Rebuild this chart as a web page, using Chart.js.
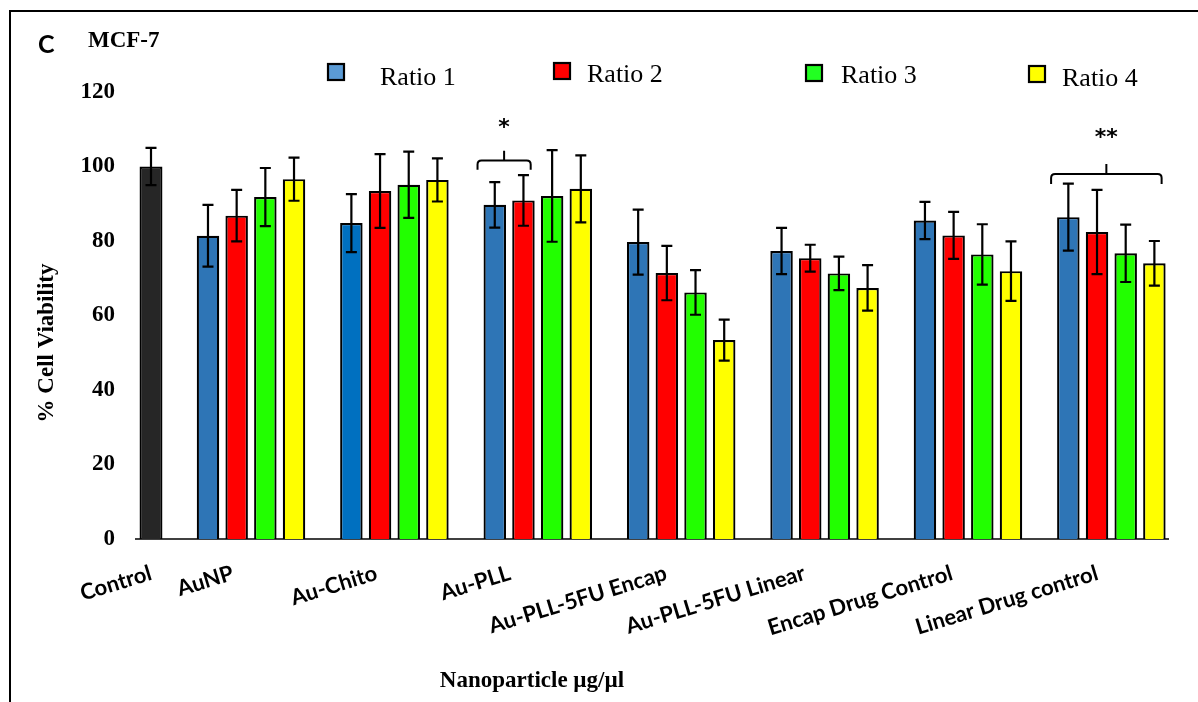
<!DOCTYPE html>
<html>
<head>
<meta charset="utf-8">
<script src="https://cdn.jsdelivr.net/npm/chart.js@4/dist/chart.umd.min.js"></script>
<style>
  html, body { margin: 0; padding: 0; background: #ffffff; }
  #wrap { position: relative; width: 1198px; height: 702px; }
</style>
</head>
<body>
<div id="wrap"><canvas id="chart"></canvas></div>
<script>
// ---------------- DATA ----------------
const categories = ['Control', 'AuNP', 'Au-Chito', 'Au-PLL', 'Au-PLL-5FU Encap',
                    'Au-PLL-5FU Linear', 'Encap Drug Control', 'Linear Drug control'];
const seriesNames = ['Ratio 1', 'Ratio 2', 'Ratio 3', 'Ratio 4'];
const controlValue = [100];
const controlError = [5];
const ratio1    = [81.4, 84.8, 89.7, 79.7, 77.3, 85.5, 86.4];
const ratio1Err = [8.3, 7.8, 6.1, 8.7, 6.2, 5.0, 9.0];
const ratio2    = [86.8, 93.4, 90.9, 71.4, 75.4, 81.5, 82.4];
const ratio2Err = [6.9, 9.9, 6.8, 7.3, 3.6, 6.3, 11.3];
const ratio3    = [91.8, 95.1, 92.1, 66.2, 71.3, 76.4, 76.7];
const ratio3Err = [7.8, 8.9, 12.3, 6.0, 4.5, 8.1, 7.7];
const ratio4    = [96.6, 96.4, 94.0, 53.4, 67.4, 71.9, 74.0];
const ratio4Err = [5.8, 5.8, 9.0, 5.5, 6.1, 8.0, 6.0];
const yTicks = [0, 20, 40, 60, 80, 100, 120];
// significance brackets: category index, first/last series, levels in % units
const sigGroup  = [3, 7];
const sigFrom   = [0, 0];
const sigTo     = [1, 3];
const sigLevel  = [101.6, 98.0];
const sigArm    = [99.1, 95.3];
const sigTip    = [104.2, 100.7];
const sigLabel  = ['*', '**'];
const sigLabelY = [111.7, 109.0];

// ---------------- LAYOUT / STYLE ----------------
const CONTROL_POS = 0.3026;           // control bar sits closer to the first group
const X_MIN = 0.198, X_MAX = 7.395;
const PLOT_W = 1198 - 136 - 30;       // chart area width in px
const UNIT_PX = PLOT_W / (X_MAX - X_MIN);
const catPos = categories.map((c, i) => i === 0 ? CONTROL_POS : i);
const labelNudge = [20, 2, 2, -8, 5, 0, 4, 6];   // px, label placement tweaks
const tickPos = catPos.map((p, i) => p + labelNudge[i] / UNIT_PX);
const minGapU = Math.min(1 - CONTROL_POS, ...tickPos.slice(1).map((p, i) => p - tickPos[i]));
const GROUP_W_U = 0.8;    // four bar slots per group, in x units
const CONTROL_W_U = 0.16; // control bar width, in x units

const seriesValues = [ratio1, ratio2, ratio3, ratio4];
const seriesErrors = [ratio1Err, ratio2Err, ratio3Err, ratio4Err];
const barColors = [
  ['#2E75B6', '#0070C0', '#2E75B6', '#2E75B6', '#2E75B6', '#2E75B6', '#2E75B6'],
  '#FF0000', '#22FF00', '#FFFF00'
];
const legendColors = ['#5B9BD5', '#FF0000', '#22FF22', '#FFFF00'];
const legendBoxX = [327, 553, 805, 1028];
const legendBoxY = [63, 62, 64, 65];
const legendTextX = [380, 587, 841, 1062];
const legendTextY = [85, 82, 83, 86];

const datasets = [{
  label: 'Control',
  data: controlValue.map(v => ({ x: catPos[0], y: v })),
  errors: controlError,
  backgroundColor: '#262626',
  borderColor: '#000000',
  borderWidth: 2.2,
  grouped: false,
  categoryPercentage: 1,
  barPercentage: CONTROL_W_U / minGapU
}];
seriesNames.forEach((name, s) => {
  datasets.push({
    label: name,
    data: seriesValues[s].map((v, i) => ({ x: catPos[i + 1], y: v })),
    errors: seriesErrors[s],
    backgroundColor: barColors[s],
    borderColor: '#000000',
    borderWidth: 2.2,
    categoryPercentage: GROUP_W_U / minGapU,
    barPercentage: 0.784
  });
});

const decorPlugin = {
  id: 'decor',
  afterDatasetsDraw(chart) {
    const ctx = chart.ctx;
    const yS = chart.scales.y;
    ctx.save();
    ctx.strokeStyle = '#000';
    ctx.lineWidth = 2.2;
    chart.data.datasets.forEach((ds, di) => {
      const meta = chart.getDatasetMeta(di);
      meta.data.forEach((bar, j) => {
        const v = ds.data[j].y, e = ds.errors[j];
        const yt = yS.getPixelForValue(v + e), yb = yS.getPixelForValue(v - e);
        const x = bar.x, cw = 5.5;
        ctx.beginPath();
        ctx.moveTo(x, yt); ctx.lineTo(x, yb);
        ctx.moveTo(x - cw, yt); ctx.lineTo(x + cw, yt);
        ctx.moveTo(x - cw, yb); ctx.lineTo(x + cw, yb);
        ctx.stroke();
      });
    });
    ctx.restore();
  },
  afterDraw(chart) {
    const ctx = chart.ctx;
    const yS = chart.scales.y;
    ctx.save();
    // frame
    ctx.strokeStyle = '#000';
    ctx.lineWidth = 2;
    ctx.beginPath();
    ctx.moveTo(10, 702); ctx.lineTo(10, 11); ctx.lineTo(1198, 11);
    ctx.stroke();
    // panel letter & cell line
    ctx.fillStyle = '#000';
    ctx.textAlign = 'left';
    ctx.textBaseline = 'alphabetic';
    ctx.font = 'bold 25px Lato';
    ctx.fillText('C', 38, 53);
    ctx.font = 'bold 23px "Liberation Serif"';
    ctx.fillText('MCF-7', 88, 47);
    // legend
    seriesNames.forEach((name, s) => {
      ctx.fillStyle = legendColors[s];
      ctx.fillRect(legendBoxX[s], legendBoxY[s], 18, 18);
      ctx.strokeStyle = '#000';
      ctx.lineWidth = 2.2;
      ctx.strokeRect(legendBoxX[s] + 1, legendBoxY[s] + 1, 16, 16);
      ctx.fillStyle = '#000';
      ctx.font = '26px "Liberation Serif"';
      ctx.fillText(name, legendTextX[s], legendTextY[s]);
    });
    // axis titles
    ctx.font = 'bold 23px "Liberation Serif"';
    ctx.textAlign = 'center';
    ctx.textBaseline = 'middle';
    ctx.save();
    ctx.translate(47, 343);
    ctx.rotate(-Math.PI / 2);
    ctx.fillText('% Cell Viability', 0, 0);
    ctx.restore();
    ctx.font = 'bold 23px "Liberation Serif"';
    ctx.fillText('Nanoparticle \u00b5g/\u00b5l', 532, 681);
    // significance brackets
    ctx.strokeStyle = '#000';
    ctx.lineWidth = 2;
    sigGroup.forEach((g, k) => {
      const b1 = chart.getDatasetMeta(sigFrom[k] + 1).data[g - 1];
      const b2 = chart.getDatasetMeta(sigTo[k] + 1).data[g - 1];
      const x1 = b1.x - b1.width / 2 - 6;
      const x2 = b2.x + b2.width / 2 - 4;
      const yH = yS.getPixelForValue(sigLevel[k]);
      const yA = yS.getPixelForValue(sigArm[k]);
      const yT = yS.getPixelForValue(sigTip[k]);
      const xc = (x1 + x2) / 2, r = 4;
      ctx.beginPath();
      ctx.moveTo(x1, yA);
      ctx.lineTo(x1, yH + r);
      ctx.quadraticCurveTo(x1, yH, x1 + r, yH);
      ctx.lineTo(x2 - r, yH);
      ctx.quadraticCurveTo(x2, yH, x2, yH + r);
      ctx.lineTo(x2, yA);
      ctx.moveTo(xc, yH);
      ctx.lineTo(xc, yT);
      ctx.stroke();
      ctx.font = 'bold 22px "DejaVu Sans"';
      ctx.textAlign = 'center';
      ctx.textBaseline = 'alphabetic';
      const m = ctx.measureText(sigLabel[k]);
      const yl = yS.getPixelForValue(sigLabelY[k]);
      ctx.fillStyle = '#000';
      ctx.fillText(sigLabel[k], xc, yl + (m.actualBoundingBoxAscent - m.actualBoundingBoxDescent) / 2);
    });
    ctx.restore();
  }
};

new Chart(document.getElementById('chart'), {
  type: 'bar',
  data: { datasets },
  plugins: [decorPlugin],
  options: {
    responsive: true,
    maintainAspectRatio: false,
    animation: false,
    events: [],
    layout: { padding: { top: 92, right: 30, bottom: 0, left: 0 } },
    plugins: { legend: { display: false }, tooltip: { enabled: false } },
    scales: {
      x: {
        type: 'linear',
        offset: false,
        bounds: 'data',
        min: X_MIN,
        max: X_MAX,
        grid: { display: false, drawTicks: false, offset: false },
        border: { display: true, color: '#404040', width: 2 },
        afterBuildTicks: s => { s.ticks = tickPos.map(v => ({ value: v })); },
        afterFit: s => { s.height = 163; },
        ticks: {
          autoSkip: false,
          minRotation: 17,
          maxRotation: 17,
          padding: 21,
          color: '#000',
          font: { family: 'Lato', weight: 'bold', size: 22 },
          labelOffset: -20,
          callback: (v, i) => categories[i]
        }
      },
      y: {
        min: 0,
        max: 120,
        grid: { display: false, drawTicks: false },
        border: { display: false },
        afterBuildTicks: s => { s.ticks = yTicks.map(v => ({ value: v })); },
        afterFit: s => { s.width = 136; },
        ticks: {
          padding: 21,
          color: '#000',
          font: { family: 'Liberation Serif', weight: 'bold', size: 23 }
        }
      }
    }
  }
});
</script>
</body>
</html>
